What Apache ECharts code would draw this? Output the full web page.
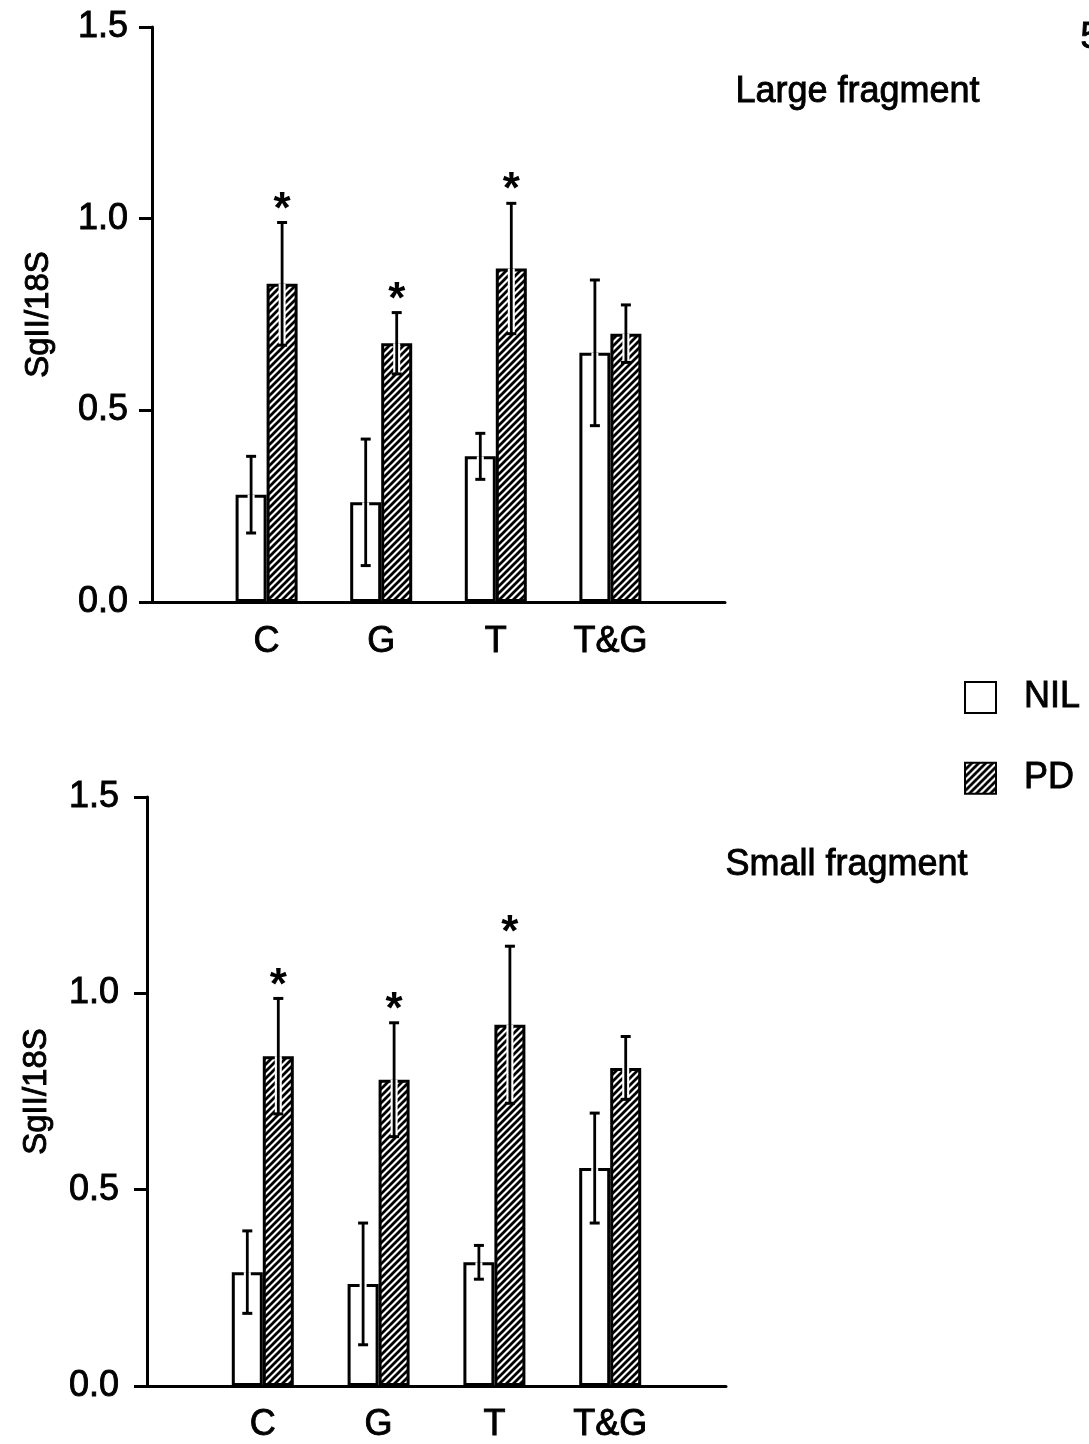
<!DOCTYPE html>
<html>
<head>
<meta charset="utf-8">
<script src="https://cdn.jsdelivr.net/npm/echarts@6/dist/echarts.min.js"></script>
<style>
  html, body { margin: 0; padding: 0; background: #fff; }
  #chart { width: 1089px; height: 1444px; }
</style>
</head>
<body>
<div id="chart"></div>
<script>
// Treatment groups along the x axis
const categories = ['C', 'G', 'T', 'T&G'];
const yTicks = [0, 0.5, 1.0, 1.5];

// Large fragment: means and SEM
const nilLarge = [0.28, 0.26, 0.38, 0.65];
const nilLargeErr = [0.10, 0.165, 0.06, 0.19];
const pdLarge = [0.83, 0.675, 0.87, 0.70];
const pdLargeErr = [0.16, 0.08, 0.17, 0.075];
const sigLarge = [1, 1, 1, 0];

// Small fragment: means and SEM
const nilSmall = [0.29, 0.26, 0.315, 0.555];
const nilSmallErr = [0.105, 0.155, 0.043, 0.14];
const pdSmall = [0.84, 0.78, 0.92, 0.81];
const pdSmallErr = [0.147, 0.145, 0.20, 0.08];
const sigSmall = [1, 1, 1, 0];

const FONT = '"Liberation Sans", Arial, Helvetica, sans-serif';
const BAR_W = 31;
const INK = { textBorderColor: '#000', textBorderWidth: 0.9 };

// Diagonal hatch used for the PD bars
function hatchCanvas() {
  const s = 7;
  const c = document.createElement('canvas');
  c.width = s; c.height = s;
  const g = c.getContext('2d');
  g.fillStyle = '#fff';
  g.fillRect(0, 0, s, s);
  g.strokeStyle = '#000';
  g.lineWidth = 2.8;
  g.beginPath();
  g.moveTo(0, s); g.lineTo(s, 0);
  g.moveTo(-s / 2, s / 2); g.lineTo(s / 2, -s / 2);
  g.moveTo(s / 2, s * 1.5); g.lineTo(s * 1.5, s / 2);
  g.stroke();
  return c;
}
const hatch = { image: hatchCanvas(), repeat: 'repeat' };

// x axis has an empty slot at each end so groups sit at ticks 1..4
const xData = [''].concat(categories, ['']);
function pad(vals) { return ['-'].concat(vals, ['-']); }

function errData(means, errs, sig) {
  return means.map((m, i) => [i + 1, m, errs[i], sig ? sig[i] : 0]);
}

function errorSeries(gridIdx, means, errs, sig, side) {
  return {
    type: 'custom',
    xAxisIndex: gridIdx,
    yAxisIndex: gridIdx,
    z: 10,
    silent: true,
    encode: { x: 0, y: 1 },
    data: errData(means, errs, sig),
    renderItem: function (params, api) {
      const x = api.value(0), m = api.value(1), e = api.value(2), s = api.value(3);
      const c = api.coord([x, m]);
      const top = api.coord([x, m + e]);
      const bot = api.coord([x, m - e]);
      const cx = c[0] + side * BAR_W / 2;
      const cap = 5;
      const children = [
        { type: 'line', shape: { x1: cx, y1: bot[1], x2: cx, y2: c[1] },
          style: { stroke: '#fff', lineWidth: 7 } },
        { type: 'line', shape: { x1: cx, y1: bot[1], x2: cx, y2: top[1] },
          style: { stroke: '#000', lineWidth: 2.8 } },
        { type: 'line', shape: { x1: cx - cap, y1: top[1], x2: cx + cap, y2: top[1] },
          style: { stroke: '#000', lineWidth: 3 } },
        { type: 'line', shape: { x1: cx - cap, y1: bot[1], x2: cx + cap, y2: bot[1] },
          style: { stroke: '#000', lineWidth: 3 } }
      ];
      if (s) {
        children.push({
          type: 'text',
          style: { text: '*', x: cx, y: top[1] - 12, align: 'center', verticalAlign: 'middle',
                   font: 'bold 44px ' + FONT, fill: '#000' }
        });
      }
      return { type: 'group', children: children };
    }
  };
}

function barSeries(gridIdx, name, vals, color) {
  return {
    type: 'bar',
    name: name,
    xAxisIndex: gridIdx,
    yAxisIndex: gridIdx,
    barWidth: BAR_W,
    barGap: '0%',
    data: pad(vals),
    itemStyle: { color: color, borderColor: '#000', borderWidth: 3 },
    emphasis: { disabled: true }
  };
}

function xAxis(gridIdx, margin) {
  return {
    type: 'category',
    gridIndex: gridIdx,
    data: xData,
    boundaryGap: false,
    axisLine: { lineStyle: { color: '#000', width: 3 } },
    axisTick: { show: false },
    axisLabel: Object.assign({ interval: 0, margin: margin, color: '#000', fontSize: 36, fontFamily: FONT }, INK)
  };
}

function yAxis(gridIdx, margin, nameGap) {
  return {
    type: 'value',
    gridIndex: gridIdx,
    min: 0, max: 1.5, interval: 0.5,
    name: 'SgII/18S',
    nameLocation: 'middle',
    nameGap: nameGap,
    nameTextStyle: Object.assign({ color: '#000', fontSize: 33, fontFamily: FONT }, INK),
    splitLine: { show: false },
    axisLine: { show: true, lineStyle: { color: '#000', width: 3 } },
    axisTick: { show: true, length: 13, lineStyle: { color: '#000', width: 3 } },
    axisLabel: Object.assign({ margin: margin, color: '#000', fontSize: 36, fontFamily: FONT,
                 formatter: v => yTicks.indexOf(v) >= 0 ? v.toFixed(1) : '' }, INK)
  };
}

const chart = echarts.init(document.getElementById('chart'), null, { renderer: 'canvas' });
chart.setOption({
  animation: false,
  backgroundColor: '#fff',
  grid: [
    { left: 152, top: 27, width: 573, height: 575 },
    { left: 147, top: 797, width: 579, height: 589 }
  ],
  xAxis: [xAxis(0, 22), xAxis(1, 21)],
  yAxis: [yAxis(0, 24, 97), yAxis(1, 28, 94)],
  legend: {
    orient: 'vertical',
    left: 959, top: 674,
    itemWidth: 31, itemHeight: 31, itemGap: 44,
    icon: 'rect',
    selectedMode: false,
    data: ['NIL', 'PD'],
    textStyle: Object.assign({ color: '#000', fontSize: 36, fontFamily: FONT, padding: [0, 0, 0, 23] }, INK)
  },
  graphic: [
    { type: 'text', left: 735, top: 74,
      style: { text: 'Large fragment', font: '36px ' + FONT, fill: '#000', stroke: '#000', lineWidth: 0.9 } },
    { type: 'text', left: 725, top: 847,
      style: { text: 'Small fragment', font: '36px ' + FONT, fill: '#000', stroke: '#000', lineWidth: 0.9 } },
    { type: 'text', left: 1080, top: 20,
      style: { text: '5', font: '36px ' + FONT, fill: '#000', stroke: '#000', lineWidth: 0.9 } }
  ],
  series: [
    barSeries(0, 'NIL', nilLarge, '#fff'),
    barSeries(0, 'PD', pdLarge, hatch),
    errorSeries(0, nilLarge, nilLargeErr, null, -1),
    errorSeries(0, pdLarge, pdLargeErr, sigLarge, 1),
    barSeries(1, 'NIL', nilSmall, '#fff'),
    barSeries(1, 'PD', pdSmall, hatch),
    errorSeries(1, nilSmall, nilSmallErr, null, -1),
    errorSeries(1, pdSmall, pdSmallErr, sigSmall, 1)
  ]
});
</script>
</body>
</html>
